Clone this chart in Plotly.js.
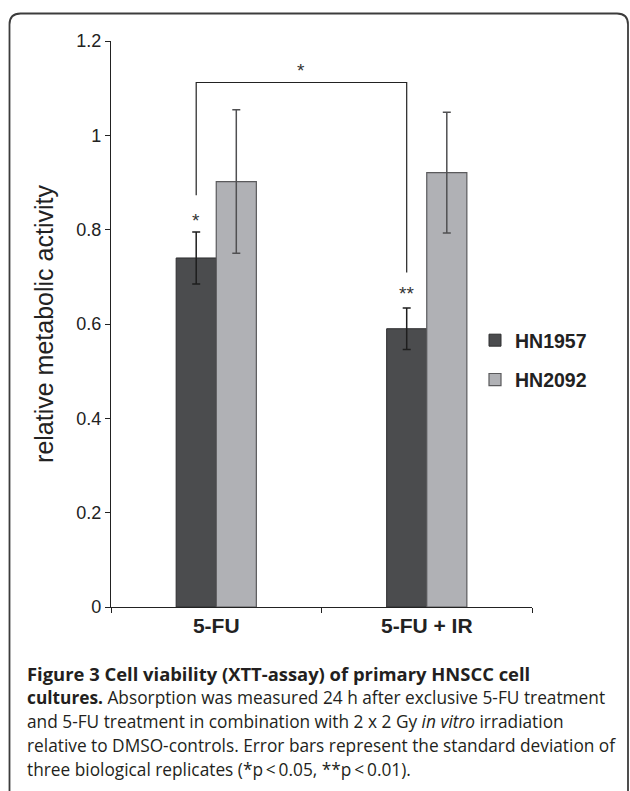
<!DOCTYPE html>
<html>
<head>
<meta charset="utf-8">
<script src="https://cdn.plot.ly/plotly-3.0.1.min.js"></script>
<style>
html,body{margin:0;padding:0;background:#fff;}
#chart{width:630px;height:791px;}
</style>
</head>
<body>
<div id="chart"></div>
<script>
// ---- data ----
var categories = ["5-FU", "5-FU + IR"];
var seriesNames = ["HN1957", "HN2092"];
var hn1957 = [0.74, 0.59];
var hn1957Err = [0.055, 0.044];
var hn2092 = [0.902, 0.921];
var hn2092Err = [0.152, 0.128];
// significance marks (y values in data units)
var starLabels = ["*", "**"];
var starY = [0.82, 0.665];
var bracketTopY = 1.112;
var bracketLeftBottomY = 0.873;
var bracketRightBottomY = 0.709;
var bracketLabel = "*";
var yTickVals = [0, 0.2, 0.4, 0.6, 0.8, 1, 1.2];

// ---- layout geometry ----
var W = 630, H = 791;
var mL = 111, mR = 98, mT = 41, mB = 184;
var plotW = W - mL - mR, plotH = H - mT - mB;
function px(x){ return (x - mL) / plotW; }
function py(y){ return (H - mB - y) / plotH; }

var darkFill = "#4b4c4e", darkLine = "#2e2e30";
var lightFill = "#b0b1b5", lightLine = "#5a5a5c";
var axisFont = "Liberation Sans, Arial, sans-serif";
var capFont = "Open Sans, Noto Sans, sans-serif";

var bargap = 1 - 80/210;
var barW = (1 - bargap) / 2; // width of a single bar in category units

var traces = [
  {
    type: "bar", name: seriesNames[0], x: categories, y: hn1957,
    marker: {color: darkFill, line: {color: darkLine, width: 1}},
    error_y: {type: "data", array: hn1957Err, visible: true, color: "#1e1e1e", thickness: 1.5, width: 4},
    legendgroup: "a"
  },
  {
    type: "bar", name: seriesNames[1], x: categories, y: hn2092,
    marker: {color: lightFill, line: {color: lightLine, width: 1.2}},
    error_y: {type: "data", array: hn2092Err, visible: true, color: "#505052", thickness: 1.5, width: 4},
    legendgroup: "b"
  }
];

var annotations = [];
// stars above HN1957 bars
for (var i = 0; i < categories.length; i++) {
  annotations.push({
    x: i - barW/2, xref: "x", y: starY[i], yref: "y",
    text: starLabels[i], showarrow: false,
    font: {family: axisFont, size: 19, color: "#333"}, yanchor: "middle"
  });
}
// bracket label
annotations.push({
  x: (0 + 1)/2 - barW/2, xref: "x", y: bracketTopY, yref: "y",
  text: bracketLabel, showarrow: false, yanchor: "bottom", yshift: 0,
  font: {family: axisFont, size: 19, color: "#333"}
});

// caption
var capLines = [
  {t: "<b>Figure 3 Cell viability (XTT-assay) of primary HNSCC cell</b>", y: 673, s: 18.4},
  {t: "<b>cultures.</b> Absorption was measured 24 h after exclusive 5-FU treatment", y: 697, s: 17.3},
  {t: "and 5-FU treatment in combination with 2 x 2 Gy <i>in vitro</i> irradiation", y: 721, s: 17.3},
  {t: "relative to DMSO-controls. Error bars represent the standard deviation of", y: 745, s: 17.3},
  {t: "three biological replicates (*p\u2009<\u20090.05, **p\u2009<\u20090.01).", y: 769, s: 17.3}
];
capLines.forEach(function(c){
  annotations.push({
    x: px(25), xref: "paper", y: py(c.y), yref: "paper",
    xanchor: "left", yanchor: "middle", align: "left",
    text: c.t, showarrow: false,
    font: {family: capFont, size: c.s, color: "#231f20"}
  });
});

// border path (rounded rect) in paper coords
var bx0 = 9.5, by0 = 13.5, bx1 = 628, by1 = 820, r = 11;
var border = "M " + px(bx0) + "," + py(by1) +
  " L " + px(bx0) + "," + py(by0 + r) +
  " Q " + px(bx0) + "," + py(by0) + " " + px(bx0 + r) + "," + py(by0) +
  " L " + px(bx1 - r) + "," + py(by0) +
  " Q " + px(bx1) + "," + py(by0) + " " + px(bx1) + "," + py(by0 + r) +
  " L " + px(bx1) + "," + py(by1);

var shapes = [
  {type: "path", xref: "paper", yref: "paper", path: border,
   line: {color: "#3c3c3c", width: 1.8}},
  // significance bracket between HN1957 bars
  {type: "path", xref: "x", yref: "y",
   path: "M " + (0 - barW/2) + "," + bracketLeftBottomY +
         " L " + (0 - barW/2) + "," + bracketTopY +
         " L " + (1 - barW/2) + "," + bracketTopY +
         " L " + (1 - barW/2) + "," + bracketRightBottomY,
   line: {color: "#222", width: 1.2}}
];

var layout = {
  width: W, height: H,
  margin: {l: mL, r: mR, t: mT, b: mB, pad: 0},
  paper_bgcolor: "#fff", plot_bgcolor: "#fff",
  barmode: "group", bargap: bargap, bargroupgap: 0,
  showlegend: true,
  legend: {x: px(475), xanchor: "left", y: py(321), yanchor: "top",
           font: {family: axisFont, size: 19.5, color: "#222", weight: "bold"},
           tracegroupgap: 11, itemwidth: 30, bgcolor: "rgba(0,0,0,0)"},
  xaxis: {
    type: "category", showline: true, linecolor: "#222", linewidth: 1.2,
    ticks: "outside", tickson: "boundaries", ticklen: 5, tickcolor: "#222",
    showgrid: false, zeroline: false,
    tickfont: {family: axisFont, size: 21, color: "#222", weight: "bold"}
  },
  yaxis: {
    range: [0, 1.2], tickvals: yTickVals, showline: true, linecolor: "#222", linewidth: 1.2,
    ticks: "outside", ticklen: 5, tickcolor: "#222", showgrid: false, zeroline: false,
    tickfont: {family: axisFont, size: 18, color: "#222"},
    title: {text: "relative metabolic activity", standoff: 15,
            font: {family: axisFont, size: 25, color: "#222"}}
  },
  annotations: annotations,
  shapes: shapes
};

Plotly.newPlot("chart", traces, layout, {displayModeBar: false, staticPlot: true});
</script>
</body>
</html>
